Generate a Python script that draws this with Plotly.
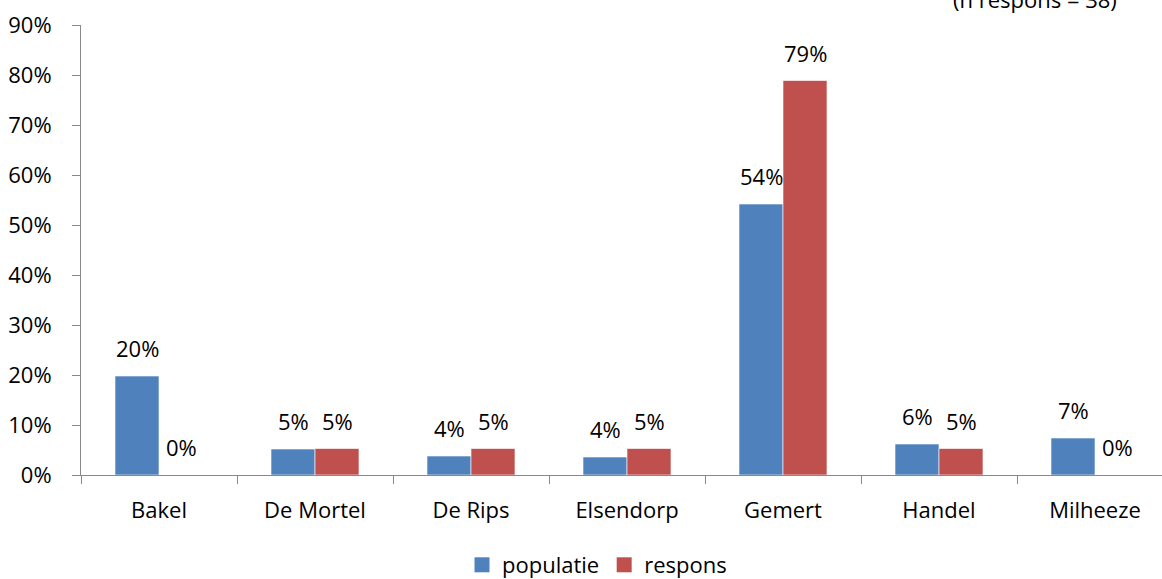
import plotly.graph_objects as go

categories = ["Bakel", "De Mortel", "De Rips", "Elsendorp", "Gemert", "Handel", "Milheeze"]
populatie = [0.198, 0.052, 0.038, 0.036, 0.542, 0.062, 0.074]
respons = [0.0, 0.053, 0.053, 0.053, 0.789, 0.053, 0.0]
populatie_labels = ["20%", "5%", "4%", "4%", "54%", "6%", "7%"]
respons_labels = ["0%", "5%", "5%", "5%", "79%", "5%", "0%"]
y_ticks = [0, 0.1, 0.2, 0.3, 0.4, 0.5, 0.6, 0.7, 0.8, 0.9]

FONT = "Open Sans"
FS = 22
BLUE = "#4F81BD"
RED = "#C0504D"

fig = go.Figure()
fig.add_trace(go.Bar(x=categories, y=populatie, name="populatie", marker_color=BLUE,
                     marker_line=dict(color="rgba(255,255,255,0.6)", width=1), showlegend=False))
fig.add_trace(go.Bar(x=categories, y=respons, name="respons", marker_color=RED,
                     marker_line=dict(color="rgba(255,255,255,0.6)", width=1), showlegend=False))
# legend entries with larger square swatches
fig.add_trace(go.Scatter(x=[None], y=[None], mode="markers", name="populatie",
                         marker=dict(symbol="square", size=15, color=BLUE)))
fig.add_trace(go.Scatter(x=[None], y=[None], mode="markers", name="respons",
                         marker=dict(symbol="square", size=15, color=RED)))

for c, v, t in zip(categories, populatie, populatie_labels):
    fig.add_annotation(x=c, y=v, text=t, showarrow=False, xshift=-22, yshift=28,
                       yanchor="middle", font=dict(family=FONT, size=FS, color="#000"))
for c, v, t in zip(categories, respons, respons_labels):
    fig.add_annotation(x=c, y=v, text=t, showarrow=False, xshift=22, yshift=28,
                       yanchor="middle", font=dict(family=FONT, size=FS, color="#000"))

fig.add_annotation(xref="paper", yref="paper", x=(1035 - 81) / 1081, y=1.0, yshift=26,
                   text="(n respons = 38)", showarrow=False, xanchor="center", yanchor="middle",
                   font=dict(family=FONT, size=FS, color="#000"))

fig.update_layout(
    width=1162, height=579,
    margin=dict(l=81, r=0, t=25, b=104, autoexpand=False),
    paper_bgcolor="white", plot_bgcolor="white",
    barmode="group", bargap=0.436, bargroupgap=0,
    font=dict(family=FONT, size=FS, color="#000"),
    showlegend=True,
    legend=dict(orientation="h", x=(597 - 81) / 1081, xanchor="center",
                yref="container", y=(579 - 565) / 579, yanchor="middle",
                font=dict(family=FONT, size=FS), itemwidth=30, traceorder="normal",
                tracegroupgap=0),
)
fig.update_xaxes(type="category", range=[-0.5, -0.5 + 1081 / 156], showline=True,
                 linecolor="#898989", linewidth=1, ticks="outside", tickson="boundaries",
                 ticklen=8, tickcolor="#898989", showgrid=False, ticklabelstandoff=16,
                 tickfont=dict(family=FONT, size=FS), automargin=False)
fig.update_yaxes(range=[0, 0.9], tickvals=y_ticks, tickformat=".0%", showline=True,
                 linecolor="#898989", linewidth=1, ticks="outside", ticklen=8,
                 tickcolor="#898989", showgrid=False, zeroline=False, ticklabelstandoff=16,
                 tickfont=dict(family=FONT, size=FS), automargin=False)

post = (
    "document.documentElement.style.overflow='hidden';"
    "document.body.style.margin='0';document.body.style.overflow='hidden';"
    "var gd=document.getElementById('{plot_id}');"
    "gd.style.position='fixed';gd.style.top='0';gd.style.left='0';"
)
fig.write_html("out.html", post_script=post, config={"displayModeBar": False})
